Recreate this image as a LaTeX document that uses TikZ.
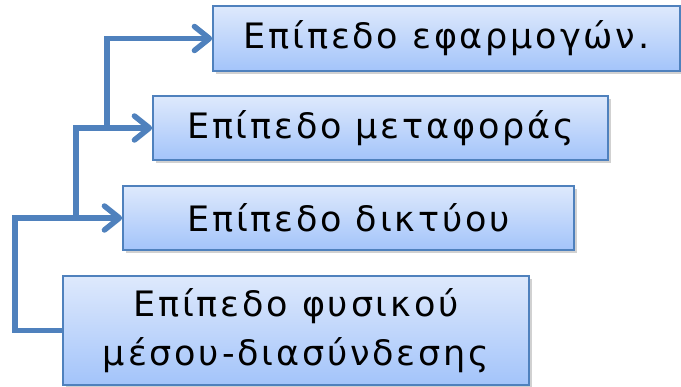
\documentclass[tikz,border=0pt]{standalone}
\usepackage{fontspec}
\setmainfont[LetterSpace=8]{DejaVu Sans}
\usetikzlibrary{arrows.meta,shadows,calc}
\definecolor{lineblue}{RGB}{79,129,189}
\definecolor{boxtop}{RGB}{222,233,252}
\definecolor{boxbot}{RGB}{163,196,250}
\tikzset{
  layerbox/.style={rectangle, draw=lineblue, line width=1.6pt, top color=boxtop, bottom color=boxbot,
    drop shadow={shadow xshift=3pt, shadow yshift=-3pt, opacity=0.3, fill=black!60},
    inner sep=0pt, align=center, font=\fontsize{35}{49}\selectfont},
  conn/.style={draw=lineblue, line width=5.5pt},
  tip/.tip={Straight Barb[length=15pt, width=24pt, line cap=round, line join=round]},
}
\begin{document}
\begin{tikzpicture}[x=1pt,y=-1pt]
\useasboundingbox (0,0) rectangle (681,387);
\node[layerbox, minimum width=467pt, minimum height=65pt] (b1) at (446.5,38.5) {Επίπεδο εφαρμογών.};
\node[layerbox, minimum width=455pt, minimum height=64pt] (b2) at (380.5,128) {Επίπεδο μεταφοράς};
\node[layerbox, minimum width=451pt, minimum height=64pt] (b3) at (348.5,218) {Επίπεδο δικτύου};
\node[layerbox, minimum width=466pt, minimum height=109pt] (b4) at (296,330.5) {Επίπεδο φυσικού\\μέσου-διασύνδεσης};
\coordinate (j2) at (76,218);
\coordinate (j3) at (107,128);
\draw[conn,-tip] (b4.west) -- ++(-47,0) |- (b3.west);
\draw[conn,-tip] (j2) |- (b2.west);
\draw[conn,-tip] (j3) |- (b1.west);
\end{tikzpicture}
\end{document}
